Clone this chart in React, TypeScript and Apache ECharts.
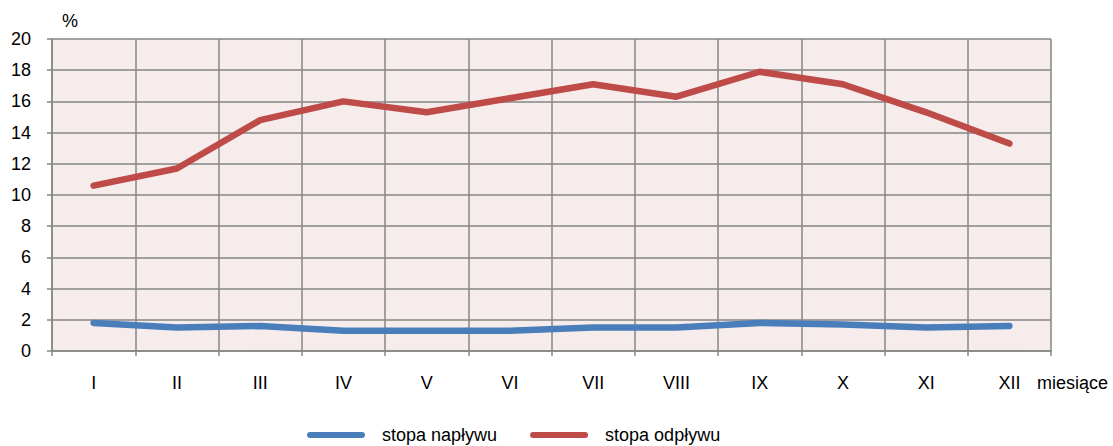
import React, { useEffect, useRef } from "react";
import * as echarts from "echarts";

const months = ["I", "II", "III", "IV", "V", "VI", "VII", "VIII", "IX", "X", "XI", "XII"];
const inflowRate = [1.8, 1.5, 1.6, 1.3, 1.3, 1.3, 1.5, 1.5, 1.8, 1.7, 1.5, 1.6];
const outflowRate = [10.6, 11.7, 14.8, 16.0, 15.3, 16.2, 17.1, 16.3, 17.9, 17.1, 15.3, 13.3];
const seriesNames = ["stopa napływu", "stopa odpływu"];
const yUnit = "%";
const xTitle = "miesiące";

const FONT = "'Liberation Sans', Arial, sans-serif";
const GRID_COLOR = "#868686";

export default function App() {
  const ref = useRef<HTMLDivElement>(null);
  useEffect(() => {
    document.body.style.margin = "0";
    const chart = echarts.init(ref.current!, null, { renderer: "svg" });
    const legendIcon = "path://M3,0 L55,0 A3,3 0 0 1 55,6 L3,6 A3,3 0 0 1 3,0 Z";
    chart.setOption({
      animation: false,
      backgroundColor: "#ffffff",
      textStyle: { fontFamily: FONT },
      grid: {
        left: 52,
        right: 62,
        top: 39,
        bottom: 95,
        show: true,
        backgroundColor: "#F7ECEC",
        borderWidth: 0,
      },
      legend: {
        data: seriesNames,
        left: 307,
        top: 426,
        padding: 0,
        itemWidth: 58,
        itemHeight: 6,
        itemGap: 33,
        icon: legendIcon,
        textStyle: { fontSize: 18, color: "#000", fontFamily: FONT, padding: [0, 0, 0, 12] },
      },
      graphic: [
        { type: "text", left: 62, top: 12, style: { text: yUnit, fontSize: 18, fill: "#000", fontFamily: FONT } },
        { type: "text", left: 1037, top: 374, style: { text: xTitle, fontSize: 18, fill: "#000", fontFamily: FONT } },
      ],
      xAxis: {
        type: "category",
        data: months,
        boundaryGap: true,
        axisLine: { show: true, lineStyle: { color: GRID_COLOR, width: 1.5 } },
        axisTick: { show: true, length: 5, lineStyle: { color: GRID_COLOR, width: 1.5 } },
        axisLabel: { margin: 23, fontSize: 18, color: "#000", fontFamily: FONT },
        splitLine: { show: true, lineStyle: { color: GRID_COLOR, width: 1.5 } },
      },
      yAxis: {
        type: "value",
        min: 0,
        max: 20,
        interval: 2,
        axisLine: { show: true, lineStyle: { color: GRID_COLOR, width: 1.5 } },
        axisTick: { show: true, length: 5, lineStyle: { color: GRID_COLOR, width: 1.5 } },
        axisLabel: { margin: 21, fontSize: 18, color: "#000", fontFamily: FONT },
        splitLine: { show: true, lineStyle: { color: GRID_COLOR, width: 1.5 } },
      },
      series: [
        {
          name: seriesNames[0],
          type: "line",
          data: inflowRate,
          symbol: "none",
          color: "#4A7EBB",
          lineStyle: { width: 6.5, color: "#4A7EBB", cap: "round", join: "round" },
        },
        {
          name: seriesNames[1],
          type: "line",
          data: outflowRate,
          symbol: "none",
          color: "#BE4B48",
          lineStyle: { width: 6.5, color: "#BE4B48", cap: "round", join: "round" },
        },
      ],
    });
    return () => chart.dispose();
  }, []);
  return <div ref={ref} style={{ width: 1113, height: 446 }} />;
}
